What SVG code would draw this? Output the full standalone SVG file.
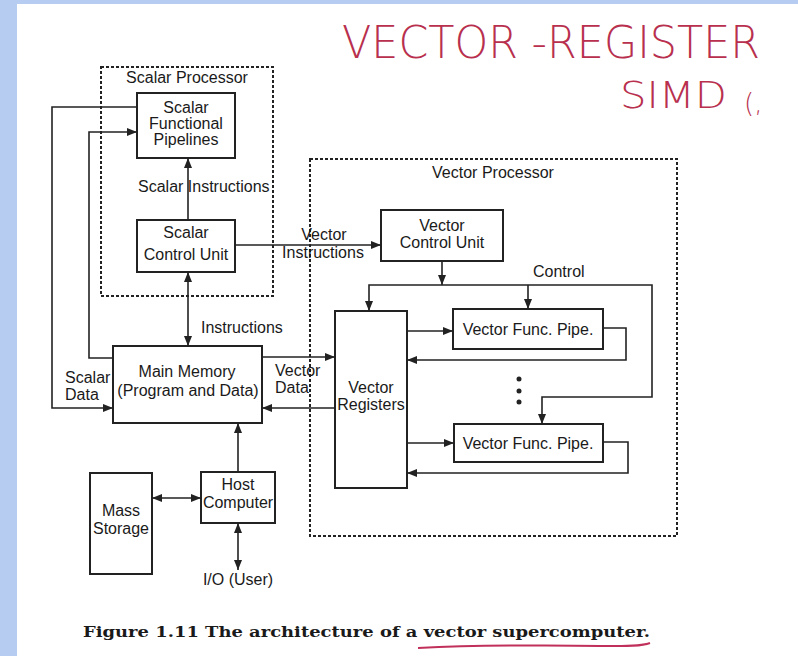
<svg xmlns="http://www.w3.org/2000/svg" width="798" height="656" viewBox="0 0 798 656">
<style>
.box{fill:none;stroke:#222;stroke-width:2}
.grp{fill:none;stroke:#222;stroke-width:2;stroke-dasharray:3 2}
.ln{fill:none;stroke:#222;stroke-width:1.6}
.t{font-family:"Liberation Sans",Arial,sans-serif;font-size:16px;fill:#1a1a1a}
.c{text-anchor:middle}
.hw{font-family:"DejaVu Sans","Liberation Sans",sans-serif;font-weight:200;fill:#b8304e}
.cap{font-family:"DejaVu Serif","Liberation Serif",serif;font-weight:bold;font-size:15px;fill:#1a1a1a}
</style>
<defs>
<marker id="ah" markerUnits="userSpaceOnUse" markerWidth="10" markerHeight="8" refX="10" refY="4" orient="auto-start-reverse">
<path d="M0,0 L10,4 L0,8 z" fill="#222"/>
</marker>
</defs>
<rect x="0" y="0" width="798" height="656" fill="#ffffff"/>
<rect x="0" y="0" width="798" height="4" fill="#b6ccf0"/>
<rect x="0" y="0" width="17" height="656" fill="#b6ccf0"/>

<g id="handwriting">
<text class="hw" x="342" y="58" font-size="44" textLength="418" lengthAdjust="spacingAndGlyphs">VECTOR -REGISTER</text>
<text class="hw" x="620" y="108" font-size="38" textLength="107" lengthAdjust="spacingAndGlyphs">SIMD</text>
<text class="hw" x="744" y="112" font-size="26">(,</text>
</g>

<g id="scalar-processor">
<rect class="grp" x="101" y="67" width="172" height="229"/>
<text class="t c" x="187" y="83">Scalar Processor</text>
</g>

<g id="vector-processor">
<rect class="grp" x="310" y="159" width="367" height="377"/>
<text class="t c" x="493" y="178">Vector Processor</text>
</g>

<g id="scalar-functional-pipelines">
<rect class="box" x="137" y="93" width="98" height="65"/>
<text class="t c" x="186" y="113">Scalar</text>
<text class="t c" x="186" y="129">Functional</text>
<text class="t c" x="186" y="145">Pipelines</text>
</g>

<g id="scalar-control-unit">
<rect class="box" x="137" y="220" width="98" height="52"/>
<text class="t c" x="186" y="238">Scalar</text>
<text class="t c" x="186" y="260">Control Unit</text>
</g>

<g id="main-memory">
<rect class="box" x="113" y="346" width="149" height="77"/>
<text class="t c" x="187" y="377">Main Memory</text>
<text class="t c" x="188" y="396">(Program and Data)</text>
</g>

<g id="host-computer">
<rect class="box" x="201" y="472" width="74" height="51"/>
<text class="t c" x="238" y="490">Host</text>
<text class="t c" x="238" y="508">Computer</text>
</g>

<g id="mass-storage">
<rect class="box" x="90" y="473" width="62" height="101"/>
<text class="t c" x="121" y="516">Mass</text>
<text class="t c" x="121" y="534">Storage</text>
</g>

<g id="vector-control-unit">
<rect class="box" x="381" y="210" width="122" height="51"/>
<text class="t c" x="442" y="231">Vector</text>
<text class="t c" x="442" y="248">Control Unit</text>
</g>

<g id="vector-registers">
<rect class="box" x="335" y="311" width="72" height="177"/>
<text class="t c" x="371" y="393">Vector</text>
<text class="t c" x="371" y="410">Registers</text>
</g>

<g id="vector-func-pipe-1">
<rect class="box" x="453" y="309" width="150" height="40"/>
<text class="t c" x="528" y="335">Vector Func. Pipe.</text>
</g>

<g id="vector-func-pipe-2">
<rect class="box" x="454" y="424" width="149" height="38"/>
<text class="t c" x="528" y="449">Vector Func. Pipe.</text>
</g>

<g id="io-user">
<text class="t c" x="238" y="585">I/O (User)</text>
</g>

<g id="connectors">
<path class="ln" d="M137,107 H52 V408 H113" marker-end="url(#ah)"/>
<path class="ln" d="M113,358 H89 V132 H137" marker-end="url(#ah)"/>
<path class="ln" d="M188,220 V158" marker-end="url(#ah)"/>
<path class="ln" d="M188,346 V272" marker-start="url(#ah)" marker-end="url(#ah)"/>
<path class="ln" d="M235,245 H381" marker-end="url(#ah)"/>
<path class="ln" d="M442,261 V285" marker-end="url(#ah)"/>
<path class="ln" d="M369,311 V285 H652 V397 H542 V424" marker-start="url(#ah)" marker-end="url(#ah)"/>
<path class="ln" d="M528,285 V309" marker-end="url(#ah)"/>
<path class="ln" d="M262,357 H335" marker-end="url(#ah)"/>
<path class="ln" d="M335,408 H262" marker-end="url(#ah)"/>
<path class="ln" d="M407,331 H453" marker-end="url(#ah)"/>
<path class="ln" d="M603,328 H626 V360 H407" marker-end="url(#ah)"/>
<path class="ln" d="M407,443 H454" marker-end="url(#ah)"/>
<path class="ln" d="M603,442 H628 V473 H407" marker-end="url(#ah)"/>
<path class="ln" d="M238,472 V423" marker-end="url(#ah)"/>
<path class="ln" d="M152,498 H201" marker-start="url(#ah)" marker-end="url(#ah)"/>
<path class="ln" d="M238,523 V570" marker-start="url(#ah)" marker-end="url(#ah)"/>
<circle cx="519" cy="379" r="2.5" fill="#222"/>
<circle cx="519" cy="391" r="2.5" fill="#222"/>
<circle cx="519" cy="402" r="2.5" fill="#222"/>
<text class="t" x="138" y="192">Scalar Instructions</text>
<text class="t" x="201" y="333">Instructions</text>
<text class="t" x="65" y="383">Scalar</text>
<text class="t" x="65" y="400">Data</text>
<text class="t" x="275" y="376">Vector</text>
<text class="t" x="275" y="393">Data</text>
<text class="t c" x="324" y="240">Vector</text>
<text class="t c" x="323" y="258">Instructions</text>
<text class="t" x="533" y="277">Control</text>
</g>

<g id="caption">
<text class="cap" x="83" y="637" textLength="567" lengthAdjust="spacingAndGlyphs">Figure 1.11 The architecture of a vector supercomputer.</text>
<path d="M418,648 C480,645 560,645 600,646 C620,646 640,647 650,643" fill="none" stroke="#c0305a" stroke-width="2"/>
</g>
</svg>
